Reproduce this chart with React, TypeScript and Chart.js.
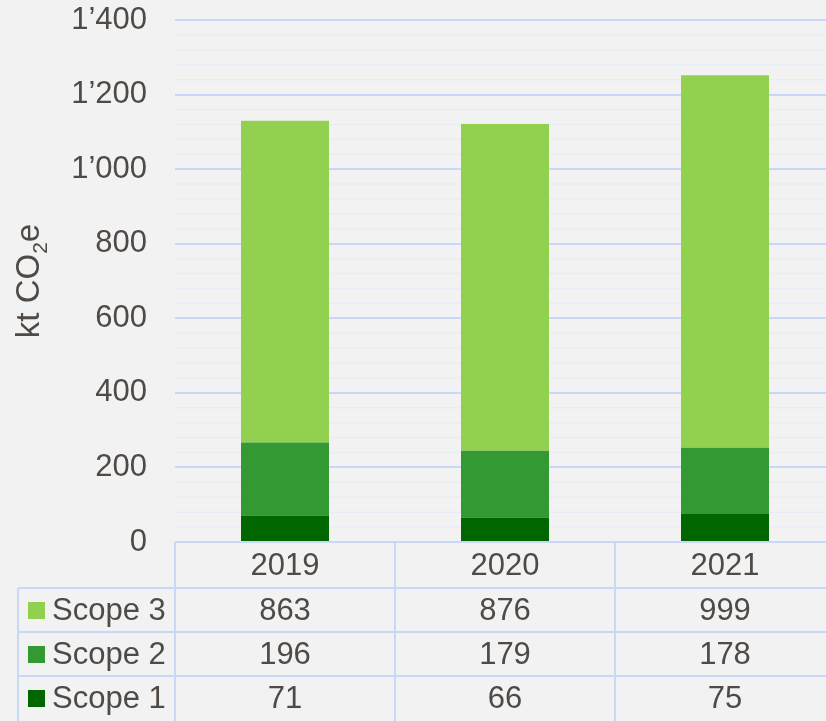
import React, { useEffect, useRef } from "react";
import { Chart, registerables } from "chart.js";

Chart.register(...registerables);

const years = ["2019", "2020", "2021"];
const scope1 = [71, 66, 75];
const scope2 = [196, 179, 178];
const scope3 = [863, 876, 999];
const yMax = 1400;
const yStep = 200;
const yMinorStep = 40;
const tableRows = [
  { name: "Scope 3", values: scope3, color: "#92d050" },
  { name: "Scope 2", values: scope2, color: "#339933" },
  { name: "Scope 1", values: scope1, color: "#006600" },
];

const FONT = "'Liberation Sans', Arial, Helvetica, sans-serif";
const TEXT = "#4f4a46";
const GRID = "#c9d8f7";
const MINOR = "#e8ecf5";
const BG = "#f2f2f2";
const FS = 31;

const fmt = (v: number) =>
  v >= 1000 ? `${Math.floor(v / 1000)}\u2019${String(v % 1000).padStart(3, "0")}` : String(v);

const customPlugin = {
  id: "custom",
  beforeDraw(chart: any) {
    const { ctx, chartArea, scales } = chart;
    ctx.save();
    ctx.fillStyle = BG;
    ctx.fillRect(0, 0, chart.width, chart.height);
    const y = scales.y;
    ctx.strokeStyle = MINOR;
    ctx.lineWidth = 1.5;
    for (let v = yMinorStep; v < yMax; v += yMinorStep) {
      if (v % yStep === 0) continue;
      const py = y.getPixelForValue(v);
      ctx.beginPath();
      ctx.moveTo(chartArea.left, py);
      ctx.lineTo(chartArea.right, py);
      ctx.stroke();
    }
    ctx.restore();
  },
  afterDraw(chart: any) {
    const { ctx, chartArea, scales } = chart;
    const x = scales.x;
    const colW = (chartArea.right - chartArea.left) / years.length;
    const top = chartArea.bottom;
    const headerH = 46;
    const rowH = 44;
    const legendLeft = 18;
    const bottom = chart.height;
    ctx.save();
    ctx.strokeStyle = GRID;
    ctx.lineWidth = 2;
    ctx.beginPath();
    ctx.moveTo(chartArea.left, top);
    ctx.lineTo(chartArea.right, top);
    ctx.stroke();
    for (let i = 0; i <= years.length; i++) {
      const px = chartArea.left + i * colW;
      ctx.beginPath();
      ctx.moveTo(px, top);
      ctx.lineTo(px, bottom);
      ctx.stroke();
    }
    for (let r = 0; r < tableRows.length; r++) {
      const py = top + headerH + r * rowH;
      ctx.beginPath();
      ctx.moveTo(legendLeft, py);
      ctx.lineTo(chartArea.right, py);
      ctx.stroke();
    }
    ctx.beginPath();
    ctx.moveTo(legendLeft, top + headerH);
    ctx.lineTo(legendLeft, bottom);
    ctx.stroke();

    ctx.fillStyle = TEXT;
    ctx.font = `${FS}px ${FONT}`;
    ctx.textAlign = "center";
    ctx.textBaseline = "middle";
    years.forEach((yr, i) => {
      ctx.fillText(yr, x.getPixelForValue(i), top + headerH / 2 + 1);
    });
    tableRows.forEach((row, r) => {
      const cy = top + headerH + r * rowH + rowH / 2 + 1;
      row.values.forEach((v, i) => {
        ctx.fillStyle = TEXT;
        ctx.fillText(String(v), x.getPixelForValue(i), cy);
      });
      ctx.fillStyle = row.color;
      ctx.fillRect(28, cy - 9, 17, 17);
      ctx.fillStyle = TEXT;
      ctx.textAlign = "left";
      ctx.fillText(row.name, 52, cy);
      ctx.textAlign = "center";
    });

    const parts = [
      { t: "kt CO", size: FS + 2, dy: 0 },
      { t: "2", size: 21, dy: 8 },
      { t: "e", size: FS + 2, dy: 0 },
    ];
    let total = 0;
    const widths = parts.map((p) => {
      ctx.font = `${p.size}px ${FONT}`;
      const w = ctx.measureText(p.t).width;
      total += w;
      return w;
    });
    const cyTitle = 281;
    ctx.translate(39, cyTitle + total / 2);
    ctx.rotate(-Math.PI / 2);
    ctx.textAlign = "left";
    ctx.textBaseline = "alphabetic";
    let off = 0;
    parts.forEach((p, i) => {
      ctx.font = `${p.size}px ${FONT}`;
      ctx.fillText(p.t, off, p.dy);
      off += widths[i];
    });
    ctx.restore();
  },
};

export default function App() {
  const ref = useRef<HTMLCanvasElement>(null);
  useEffect(() => {
    document.body.style.margin = "0";
    const chart = new Chart(ref.current!, {
      type: "bar",
      data: {
        labels: years,
        datasets: [
          { label: "Scope 1", data: scope1, backgroundColor: "#006600" },
          { label: "Scope 2", data: scope2, backgroundColor: "#339933" },
          { label: "Scope 3", data: scope3, backgroundColor: "#92d050" },
        ],
      },
      options: {
        animation: false,
        responsive: false,
        maintainAspectRatio: false,
        layout: { padding: { top: 20, bottom: 179, left: 0, right: 0 } },
        datasets: { bar: { barPercentage: 0.4, categoryPercentage: 1 } },
        plugins: { legend: { display: false }, tooltip: { enabled: false } },
        scales: {
          x: { stacked: true, display: false },
          y: {
            stacked: true,
            min: 0,
            max: yMax,
            afterFit(s: any) {
              s.width = 175;
              s.paddingTop = 0;
              s.paddingBottom = 0;
            },
            ticks: {
              stepSize: yStep,
              padding: 28,
              color: TEXT,
              font: { family: FONT, size: FS },
              callback: (v: any) => fmt(Number(v)),
            },
            grid: { color: GRID, lineWidth: 2, drawTicks: false },
            border: { display: false },
          },
        },
      },
      plugins: [customPlugin],
    } as any);
    return () => chart.destroy();
  }, []);
  return (
    <div style={{ position: "absolute", left: 0, top: 0, width: 826, height: 721, overflow: "hidden", background: BG }}>
      <canvas ref={ref} width={835} height={721} style={{ display: "block", width: 835, height: 721 }} />
    </div>
  );
}
